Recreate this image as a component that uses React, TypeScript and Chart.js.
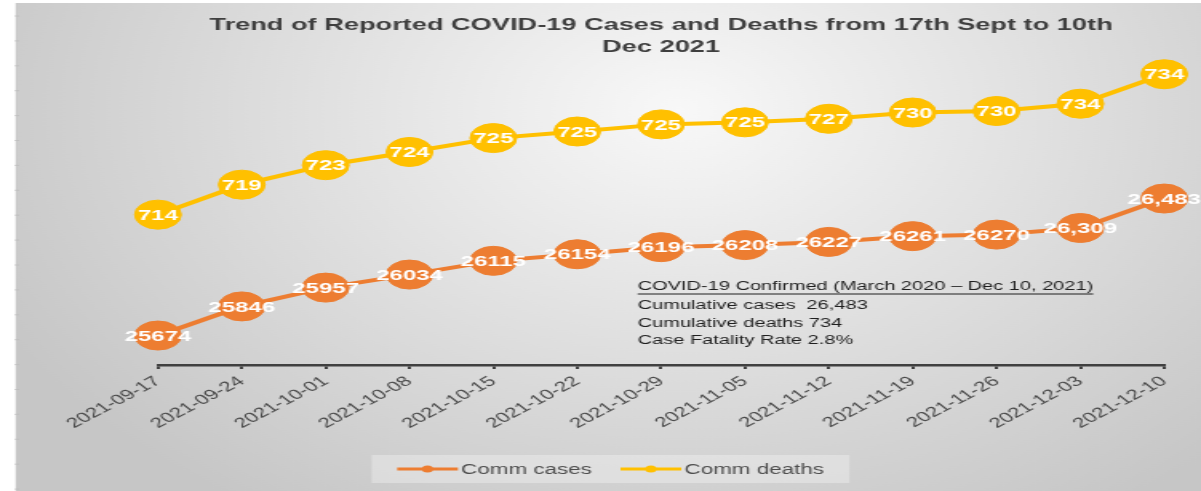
import React, { useEffect, useRef } from 'react';
import { Chart, registerables } from 'chart.js';

Chart.register(...registerables);

// ---------- data ----------
const dates = [
  '2021-09-17', '2021-09-24', '2021-10-01', '2021-10-08', '2021-10-15', '2021-10-22', '2021-10-29',
  '2021-11-05', '2021-11-12', '2021-11-19', '2021-11-26', '2021-12-03', '2021-12-10',
];
const caseValues = [25674, 25846, 25957, 26034, 26115, 26154, 26196, 26208, 26227, 26261, 26270, 26309, 26483];
const deathValues = [714, 719, 723, 724, 725, 725, 725, 725, 727, 730, 730, 734, 734];
const caseLabels = ['25674', '25846', '25957', '26034', '26115', '26154', '26196', '26208', '26227', '26261', '26270', '26,309', '26,483'];
const deathLabels = ['714', '719', '723', '724', '725', '725', '725', '725', '727', '730', '730', '734', '734'];
const seriesNames = ['Comm cases', 'Comm deaths'];
const seriesColors = ['#ED7D31', '#FFC000'];
const titleLines = ['Trend of Reported COVID-19 Cases and Deaths from 17th Sept to 10th', 'Dec 2021'];
const noteLines = [
  'COVID-19 Confirmed (March 2020 \u2013 Dec 10, 2021)',
  'Cumulative cases  26,483',
  'Cumulative deaths 734',
  'Case Fatality Rate 2.8%',
];

// ---------- layout (internal canvas is stretched horizontally) ----------
const W = 751;
const H = 491;
const SX = 1201 / W;
const FONT = '"Liberation Sans", Arial, sans-serif';

const bgPlugin = {
  id: 'bgPlugin',
  beforeDraw(chart: any) {
    const { ctx, width, height } = chart;
    ctx.save();
    ctx.fillStyle = '#ffffff';
    ctx.fillRect(0, 0, width, height);
    const g = ctx.createRadialGradient(425, 110, 0, 425, 110, 480);
    g.addColorStop(0, '#f8f8f8');
    g.addColorStop(1, '#c6c6c6');
    ctx.fillStyle = g;
    ctx.fillRect(10.3, 3, width - 10.3, height - 3);
    // left rule with small ticks
    ctx.strokeStyle = '#bdbdbd';
    ctx.lineWidth = 0.8;
    ctx.beginPath();
    ctx.moveTo(10.3, 3);
    ctx.lineTo(10.3, height);
    for (let y = 16; y < height; y += 24.9) {
      ctx.moveTo(9.2, y);
      ctx.lineTo(12, y);
    }
    ctx.stroke();
    ctx.restore();
  },
};

const labelPlugin = {
  id: 'valueLabels',
  afterDatasetsDraw(chart: any) {
    const { ctx } = chart;
    ctx.save();
    ctx.font = `bold 15px ${FONT}`;
    ctx.fillStyle = '#ffffff';
    ctx.textAlign = 'center';
    ctx.textBaseline = 'middle';
    chart.data.datasets.forEach((ds: any, i: number) => {
      const meta = chart.getDatasetMeta(i);
      meta.data.forEach((pt: any, j: number) => {
        ctx.fillText(ds.valueLabels[j], pt.x, pt.y + 1);
      });
    });
    ctx.restore();
  },
};

const notePlugin = {
  id: 'notePlugin',
  afterDraw(chart: any) {
    const { ctx } = chart;
    ctx.save();
    ctx.font = `12.5px ${FONT}`;
    ctx.fillStyle = '#1f1f1f';
    ctx.textAlign = 'left';
    ctx.textBaseline = 'middle';
    const x0 = 398.75;
    const ys = [287, 306, 324, 341];
    noteLines.forEach((t, i) => {
      ctx.fillText(t, x0, ys[i]);
      if (i === 0) {
        const w = ctx.measureText(t).width;
        ctx.strokeStyle = '#1f1f1f';
        ctx.lineWidth = 1;
        ctx.beginPath();
        ctx.moveTo(x0, ys[i] + 7);
        ctx.lineTo(x0 + w, ys[i] + 7);
        ctx.stroke();
      }
    });
    ctx.restore();
  },
};

const legendPlugin = {
  id: 'customLegend',
  afterDraw(chart: any) {
    const { ctx } = chart;
    ctx.save();
    ctx.font = `14px ${FONT}`;
    const cx = 381.75;
    const cy = 469;
    const sample = 38;
    const gapText = 2;
    const gapItem = 18;
    const items = chart.data.datasets.map((ds: any) => ({
      text: ds.label,
      color: ds.borderColor,
      w: sample + gapText + ctx.measureText(ds.label).width,
    }));
    const total = items.reduce((s: number, it: any) => s + it.w, 0) + gapItem * (items.length - 1);
    let x = cx - total / 2;
    ctx.fillStyle = 'rgba(255,255,255,0.3)';
    ctx.fillRect(x - 16, cy - 14, total + 32, 28);
    ctx.textBaseline = 'middle';
    ctx.textAlign = 'left';
    items.forEach((it: any) => {
      ctx.strokeStyle = it.color;
      ctx.lineWidth = 3;
      ctx.beginPath();
      ctx.moveTo(x, cy);
      ctx.lineTo(x + sample, cy);
      ctx.stroke();
      ctx.fillStyle = it.color;
      ctx.beginPath();
      ctx.arc(x + sample / 2, cy, 3.5, 0, Math.PI * 2);
      ctx.fill();
      ctx.fillStyle = '#4d4d4d';
      ctx.fillText(it.text, x + sample + gapText, cy + 1);
      x += it.w + gapItem;
    });
    ctx.restore();
  },
};

export default function App() {
  const ref = useRef<HTMLCanvasElement | null>(null);

  useEffect(() => {
    if (!ref.current) return;
    const mk = (i: number, data: number[], labels: string[]) => ({
      label: seriesNames[i],
      data,
      valueLabels: labels,
      borderColor: seriesColors[i],
      backgroundColor: seriesColors[i],
      borderWidth: 4,
      pointRadius: 14.5,
      pointHoverRadius: 14.5,
      pointBackgroundColor: seriesColors[i],
      pointBorderColor: seriesColors[i],
      pointBorderWidth: 1,
      tension: 0,
      fill: false,
      clip: false,
    });
    const chart = new Chart(ref.current, {
      type: 'line',
      data: {
        labels: dates,
        datasets: [mk(0, caseValues, caseLabels), mk(1, deathValues, deathLabels)] as any,
      },
      options: {
        animation: false,
        responsive: false,
        devicePixelRatio: 1,
        layout: { padding: { left: 98.75, right: 23, top: 0, bottom: 0 } },
        plugins: {
          legend: { display: false },
          tooltip: { enabled: false },
          title: {
            display: true,
            text: titleLines,
            color: '#3f3f3f',
            font: { family: FONT, size: 17, weight: 'bold', lineHeight: 1.3 },
            padding: { top: 14, bottom: 2 },
          },
        },
        scales: {
          x: {
            grid: { display: true, drawOnChartArea: false, drawTicks: true, tickLength: 4, color: '#404040', lineWidth: 2 },
            border: { display: true, color: '#404040', width: 2.5 },
            ticks: {
              font: { family: FONT, size: 14 },
              color: '#4a4a4a',
              minRotation: 40,
              maxRotation: 40,
              autoSkip: false,
              padding: 4,
            },
            afterFit: (s: any) => { s.height = 126; },
          },
          y: { display: false, stacked: true, min: 25500, max: 27300 },
        },
      } as any,
      plugins: [bgPlugin, labelPlugin, notePlugin, legendPlugin],
    });
    return () => chart.destroy();
  }, []);

  return (
    <div
      style={{
        position: 'absolute',
        left: 0,
        top: 0,
        width: W,
        height: H,
        transform: `scaleX(${SX})`,
        transformOrigin: '0 0',
        overflow: 'hidden',
      }}
    >
      <canvas ref={ref} width={W} height={H} style={{ display: 'block', width: W + 'px', height: H + 'px' }} />
    </div>
  );
}
